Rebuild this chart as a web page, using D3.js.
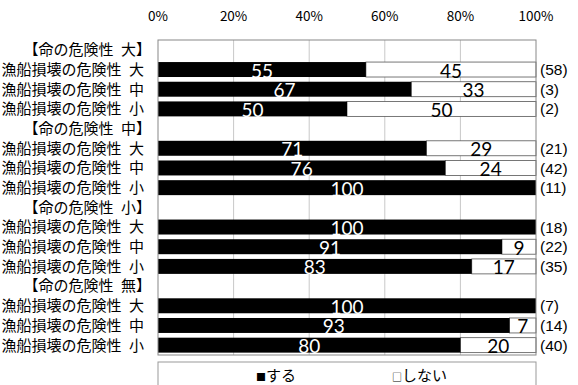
<!DOCTYPE html>
<meta charset="utf-8" />
<script src="https://d3js.org/d3.v7.min.js"></script>
<style>
  body { margin: 0; background: #fff; }
  text { font-family: "Noto Sans CJK JP", sans-serif; }
</style>
<div id="chart"></div>
<script>
  // row labels, top to bottom (group headers have no bar)
  const rowLabels = [
    "【命の危険性\u2002大】", "漁船損壊の危険性\u2002大", "漁船損壊の危険性\u2002中", "漁船損壊の危険性\u2002小",
    "【命の危険性\u2002中】", "漁船損壊の危険性\u2002大", "漁船損壊の危険性\u2002中", "漁船損壊の危険性\u2002小",
    "【命の危険性\u2002小】", "漁船損壊の危険性\u2002大", "漁船損壊の危険性\u2002中", "漁船損壊の危険性\u2002小",
    "【命の危険性\u2002無】", "漁船損壊の危険性\u2002大", "漁船損壊の危険性\u2002中", "漁船損壊の危険性\u2002小"
  ];
  const isHeader = [true, false, false, false, true, false, false, false,
                    true, false, false, false, true, false, false, false];
  // する / しない (%), null for header rows
  const suru  = [null, 55, 67, 50, null, 71, 76, 100, null, 100, 91, 83, null, 100, 93, 80];
  const shinai = [null, 45, 33, 50, null, 29, 24, 0, null, 0, 9, 17, null, 0, 7, 20];
  const counts = [null, 58, 3, 2, null, 21, 42, 11, null, 18, 22, 35, null, 7, 14, 40];
  const xTicks = [0, 20, 40, 60, 80, 100];
  const legendLabels = ["する", "しない"];
  const legendMarks = ["■", "□"];

  const W = 578, H = 385;
  const plot = { left: 158, right: 536, top: 40, bottom: 355 };

  const svg = d3.select("#chart").append("svg")
    .attr("width", W).attr("height", H);

  const x = d3.scaleLinear().domain([0, 100]).range([plot.left, plot.right]);
  const y = d3.scaleBand().domain(d3.range(rowLabels.length))
    .range([plot.top, plot.bottom]).paddingInner(0.24).paddingOuter(0.12);

  // grid
  svg.selectAll(".grid").data(xTicks.slice(1, -1)).join("line")
    .attr("x1", d => x(d)).attr("x2", d => x(d))
    .attr("y1", plot.top).attr("y2", plot.bottom)
    .attr("stroke", "#c8c8c8").attr("stroke-width", 1);

  // tick labels at top
  svg.selectAll(".tick").data(xTicks).join("text")
    .attr("x", d => x(d)).attr("y", 21)
    .attr("text-anchor", "middle")
    .style("font-size", "13.5px").attr("fill", "#000")
    .text(d => d + "%");

  const rows = d3.range(rowLabels.length);

  // left labels
  svg.selectAll(".lab").data(rows).join("text")
    .attr("x", d => isHeader[d] ? 151 : 144)
    .attr("y", d => y(d) + y.bandwidth() / 2)
    .attr("dy", "0.36em")
    .attr("text-anchor", "end")
    .style("font-size", "15px")
    .text(d => rowLabels[d]);

  const barRows = rows.filter(d => !isHeader[d]);

  // white (しない) segment
  svg.selectAll(".no").data(barRows.filter(d => shinai[d] > 0)).join("rect")
    .attr("x", d => x(suru[d])).attr("y", d => y(d))
    .attr("width", d => x(100) - x(suru[d])).attr("height", y.bandwidth())
    .attr("fill", "#fff").attr("stroke", "#555").attr("stroke-width", 0.8);

  // black (する) segment
  svg.selectAll(".yes").data(barRows).join("rect")
    .attr("x", x(0)).attr("y", d => y(d))
    .attr("width", d => x(suru[d]) - x(0)).attr("height", y.bandwidth())
    .attr("fill", "#000");

  // value labels
  svg.selectAll(".vyes").data(barRows).join("text")
    .attr("x", d => x(suru[d] / 2)).attr("y", d => y(d) + y.bandwidth() + 0.5)
    .attr("text-anchor", "middle")
    .style("font-family", "Lato, sans-serif").style("font-size", "19px")
    .attr("fill", "#fff")
    .text(d => suru[d]);
  svg.selectAll(".vno").data(barRows.filter(d => shinai[d] > 0)).join("text")
    .attr("x", d => x(suru[d] + shinai[d] / 2)).attr("y", d => y(d) + y.bandwidth() + 0.5)
    .attr("text-anchor", "middle")
    .style("font-family", "Lato, sans-serif").style("font-size", "19px")
    .attr("fill", "#000")
    .text(d => shinai[d]);

  // counts on the right
  svg.selectAll(".cnt").data(barRows).join("text")
    .attr("x", 540).attr("y", d => y(d) + y.bandwidth() / 2)
    .attr("dy", "0.36em")
    .style("font-family", "'Liberation Sans', sans-serif")
    .style("font-size", "15.5px")
    .text(d => "(" + counts[d] + ")");

  // plot border
  svg.append("rect").attr("x", plot.left).attr("y", plot.top)
    .attr("width", plot.right - plot.left).attr("height", plot.bottom - plot.top)
    .attr("fill", "none").attr("stroke", "#888").attr("stroke-width", 1);

  // legend
  svg.append("rect").attr("x", plot.left).attr("y", 362)
    .attr("width", plot.right - plot.left).attr("height", 40)
    .attr("fill", "#fff").attr("stroke", "#999");
  const leg = svg.selectAll(".leg").data(legendLabels).join("text")
    .attr("x", (d, i) => i === 0 ? 256 : 392).attr("y", 381)
    .style("font-size", "15px");
  leg.append("tspan").style("font-size", "10px").text((d, i) => legendMarks[i]);
  leg.append("tspan").text(d => d);
</script>
